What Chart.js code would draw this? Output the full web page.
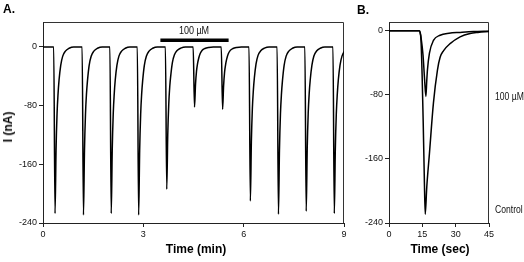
<!DOCTYPE html>
<html>
<head>
<meta charset="utf-8">
<script src="https://cdn.jsdelivr.net/npm/chart.js@4.4.1/dist/chart.umd.min.js"></script>
<style>
  html, body { margin: 0; padding: 0; background: #fff; }
  #wrap { position: relative; width: 524px; height: 262px; overflow: hidden; font-family: 'Liberation Sans', Arial, sans-serif; color: #000; }
  canvas { position: absolute; top: 0; }
  .lbl { position: absolute; line-height: 1; white-space: nowrap; }
  .c { transform: translate(-50%, -50%) scaleX(0.9); }
  .bold { font-weight: bold; font-size: 12px; }
  .small { font-size: 10px; color: #111; }
  .side { transform: scaleX(0.86); transform-origin: left center; }
</style>
</head>
<body>
<div id="wrap">
  <canvas id="chartA" width="350" height="262" style="left:0"></canvas>
  <canvas id="chartB" width="174" height="262" style="left:350px"></canvas>
  <div class="lbl bold" style="left:3px;top:3px">A.</div>
  <div class="lbl bold" style="left:357px;top:4px">B.</div>
  <div class="lbl bold" style="left:8px;top:127px;transform:translate(-50%,-50%) rotate(-90deg)">I (nA)</div>
  <div class="lbl bold" style="left:196px;top:249px;transform:translate(-50%,-50%)">Time (min)</div>
  <div class="lbl bold" style="left:440px;top:249px;transform:translate(-50%,-50%)">Time (sec)</div>
  <div class="lbl small c" style="left:194px;top:31px">100 µM</div>
  <div class="lbl small side" style="left:495px;top:92px">100 µM</div>
  <div class="lbl small side" style="left:495px;top:205px">Control</div>
</div>
<script>
// Panel A: repeated responses over 9 min (time in min, current in nA)
const traceA_t = [0,
  0.32, 0.36, 0.39, 0.42, 0.45, 0.48, 0.53, 0.59, 0.67, 0.78, 0.92,
  1.17, 1.21, 1.24, 1.27, 1.30, 1.33, 1.38, 1.44, 1.52, 1.63, 1.77,
  2.00, 2.04, 2.07, 2.10, 2.13, 2.16, 2.21, 2.27, 2.35, 2.46, 2.60,
  2.82, 2.86, 2.89, 2.92, 2.95, 2.98, 3.03, 3.09, 3.17, 3.28, 3.42,
  3.66, 3.70, 3.73, 3.76, 3.79, 3.82, 3.87, 3.93, 4.01, 4.12, 4.26,
  4.49, 4.53, 4.56, 4.59, 4.62, 4.65, 4.70, 4.76, 4.84, 4.95, 5.09,
  5.33, 5.37, 5.40, 5.43, 5.46, 5.49, 5.54, 5.60, 5.68, 5.79, 5.93,
  6.16, 6.20, 6.23, 6.26, 6.29, 6.32, 6.37, 6.43, 6.51, 6.62, 6.76,
  7.00, 7.04, 7.07, 7.10, 7.13, 7.16, 7.21, 7.27, 7.35, 7.46, 7.60,
  7.83, 7.87, 7.90, 7.93, 7.96, 7.99, 8.04, 8.10, 8.18, 8.29, 8.43,
  8.67, 8.71, 8.74, 8.77, 8.80, 8.83, 8.88, 8.94, 9.02, 9.13, 9.27];
const traceA_i = [0,
  0, -227, -141, -91, -64, -45, -25, -12.5, -5.7, -1.8, 0,
  0, -229, -142, -92, -64, -46, -25, -12.6, -5.7, -1.8, 0,
  0, -227, -141, -91, -64, -45, -25, -12.5, -5.7, -1.8, 0,
  0, -229, -142, -92, -64, -46, -25, -12.6, -5.7, -1.8, 0,
  0, -194, -120, -78, -54, -39, -21, -10.7, -4.9, -1.6, 0,
  0, -82, -51, -33, -23, -16.4, -9, -4.5, -2.1, -0.7, 0,
  0, -85, -53, -34, -24, -17, -9.4, -4.7, -2.1, -0.7, 0,
  0, -210, -130, -84, -59, -42, -23, -11.5, -5.3, -1.7, 0,
  0, -228, -141, -91, -64, -46, -25, -12.5, -5.7, -1.8, 0,
  0, -224, -139, -90, -63, -45, -25, -12.3, -5.6, -1.8, 0,
  0, -227, -141, -91, -64, -45, -25, -12.5, -5.7, -1.8, 0];

// 100 uM application bar (min) and its height on the nA axis
const drugBar_t = [3.51, 5.55];
const drugBar_i = [9, 9];

// Panel B: single responses (time in sec)
const control_t = [0, 13.5, 14.0, 14.4, 14.9, 15.4, 15.9, 16.3, 17.0, 18.2, 20.0, 21.8, 23.0, 24.5, 27.5, 32.0, 36.5, 40.0, 45.0];
const control_i = [0, 0, -2, -12, -55, -115, -185, -229, -195, -153, -90, -49, -33, -25, -16, -7.5, -3.3, -2, -1];
const drug_t = [0, 13.5, 14.0, 14.5, 15.3, 16.0, 16.6, 17.0, 17.3, 18.2, 20.0, 23.0, 27.0, 32.0, 38.0, 45.0];
const drug_i = [0, 0, -2, -10, -30, -60, -82, -62, -49, -28, -12, -5.5, -3, -2, -1, -0.5];

// Axis ticks
const yTicks = [0, -80, -160, -240];
const xTicksA = [0, 3, 6, 9];
const xTicksB = [0, 15, 30, 45];

const tickFont = { family: "'Liberation Sans', Arial, sans-serif", size: 9 };

function pairs(ts, vs) {
    return ts.map((t, k) => ({ x: t, y: vs[k] }));
}

// top and right edges of the box
const framePlugin = {
    id: 'frame',
    beforeDatasetsDraw(chart) {
        const a = chart.chartArea;
        const c = chart.ctx;
        c.save();
        c.strokeStyle = '#333';
        c.lineWidth = 1;
        c.beginPath();
        c.moveTo(Math.round(a.left) + 0.5, Math.round(a.top) + 0.5);
        c.lineTo(Math.round(a.right) - 0.5, Math.round(a.top) + 0.5);
        c.lineTo(Math.round(a.right) - 0.5, Math.round(a.bottom));
        c.stroke();
        c.restore();
    }
};

function axis(min, max, ticks, size, horizontal) {
    return {
        type: 'linear',
        min: min,
        max: max,
        afterBuildTicks: s => { s.ticks = ticks.map(v => ({ value: v })); },
        afterFit: s => { if (horizontal) s.height = size; else s.width = size; },
        border: { display: true, color: '#222', width: 1 },
        grid: { drawOnChartArea: false, drawTicks: true, tickLength: 4, color: '#222' },
        ticks: { font: tickFont, color: '#111', padding: 2, maxRotation: 0, autoSkip: false }
    };
}

function lineSet(data, width) {
    return {
        data: data,
        borderColor: '#000',
        borderWidth: width,
        pointRadius: 0,
        fill: false,
        cubicInterpolationMode: 'monotone'
    };
}

const commonPlugins = { legend: { display: false }, tooltip: { enabled: false } };

new Chart(document.getElementById('chartA'), {
    type: 'line',
    data: {
        datasets: [
            lineSet(pairs(traceA_t, traceA_i), 1.5),
            Object.assign(lineSet(pairs(drugBar_t, drugBar_i), 3.5), { cubicInterpolationMode: 'default', borderCapStyle: 'butt' })
        ]
    },
    options: {
        responsive: false,
        animation: false,
        layout: { padding: { top: 22, right: 6, left: 0, bottom: 0 } },
        plugins: commonPlugins,
        scales: {
            x: axis(0, 9, xTicksA, 39, true),
            y: axis(-240, 34, yTicks, 43, false)
        }
    },
    plugins: [framePlugin]
});

new Chart(document.getElementById('chartB'), {
    type: 'line',
    data: {
        datasets: [
            lineSet(pairs(control_t, control_i), 1.5),
            lineSet(pairs(drug_t, drug_i), 1.5)
        ]
    },
    options: {
        responsive: false,
        animation: false,
        layout: { padding: { top: 22, right: 35, left: 0, bottom: 0 } },
        plugins: commonPlugins,
        scales: {
            x: axis(0, 45, xTicksB, 39, true),
            y: axis(-240, 11, yTicks, 39, false)
        }
    },
    plugins: [framePlugin]
});
</script>
</body>
</html>
